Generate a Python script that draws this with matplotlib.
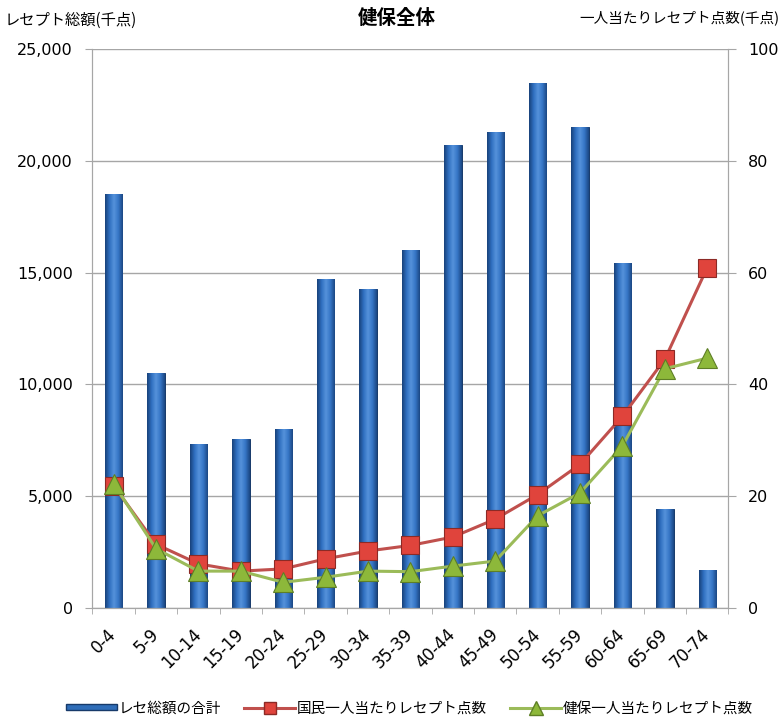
import numpy as np
import matplotlib
matplotlib.use("Agg")
import matplotlib.pyplot as plt
from matplotlib.colors import LinearSegmentedColormap
from matplotlib.patches import Rectangle
from matplotlib.lines import Line2D

plt.rcParams['font.family'] = ['Noto Sans CJK JP', 'DejaVu Sans']

# 年齢階級
ages = ['0-4', '5-9', '10-14', '15-19', '20-24', '25-29', '30-34', '35-39',
        '40-44', '45-49', '50-54', '55-59', '60-64', '65-69', '70-74']
# レセ総額の合計(千点)
total_points = [18500, 10500, 7350, 7550, 8000, 14700, 14250, 16000,
                20700, 21300, 23500, 21500, 15450, 4450, 1700]
# 国民一人当たりレセプト点数(千点)
kokumin_per_person = [21.9, 11.4, 7.9, 6.6, 7.0, 8.8, 10.2, 11.2,
                      12.7, 15.9, 20.3, 25.7, 34.3, 44.5, 60.9]
# 健保一人当たりレセプト点数(千点)
kenpo_per_person = [22.2, 10.6, 6.6, 6.6, 4.6, 5.5, 6.6, 6.5,
                    7.5, 8.4, 16.5, 20.6, 29.0, 42.8, 44.7]

left_ticks = list(range(0, 25001, 5000))
right_ticks = list(range(0, 101, 20))

fig = plt.figure(figsize=(7.81, 7.17), dpi=100)
ax = fig.add_axes([0.1184, 0.1520, 0.8143, 0.7797])
ax2 = ax.twinx()

x = np.arange(len(ages))
bar_w = 0.41

# cylinder-like shading for the bars
shade = LinearSegmentedColormap.from_list(
    'bar', ['#18427A', '#2F6FC0', '#5592DB', '#3676C6', '#1B4784'])
grad = np.linspace(0, 1, 64).reshape(1, -1)
bars = ax.bar(x, total_points, width=bar_w, color='#2F6DB8',
              edgecolor='#173A6A', linewidth=0.7, zorder=2)
for b in bars:
    x0 = b.get_x()
    h = b.get_height()
    im = ax.imshow(grad, cmap=shade, aspect='auto', zorder=2.1,
                   extent=(x0, x0 + bar_w, 0, h))
    im.set_clip_path(b)

ax.set_xlim(-0.5, len(ages) - 0.5)
ax.set_ylim(0, 25000)
ax.set_yticks(left_ticks)
ax.set_yticklabels([f'{v:,}' for v in left_ticks], family='DejaVu Sans')
ax.grid(axis='y', color='#A6A6A6', linewidth=1.0, zorder=0)
ax.set_axisbelow(True)

ax.set_xticks(x)
ax.set_xticklabels(ages, rotation=45, ha='right', va='center',
                   rotation_mode='anchor', family='DejaVu Sans')
ax.set_xticks(np.arange(-0.5, len(ages)), minor=True)
ax.tick_params(axis='x', which='major', length=0, pad=17, labelsize=12)
ax.tick_params(axis='x', which='minor', length=4, color='#A6A6A6')
ax.tick_params(axis='y', length=5, pad=9, color='#A6A6A6', labelsize=11.5)

ax2.set_ylim(0, 100)
ax2.set_yticks(right_ticks)
ax2.set_yticklabels([str(v) for v in right_ticks], family='DejaVu Sans')
ax2.tick_params(axis='y', length=6, pad=8, color='#A6A6A6', labelsize=11.5)

for a in (ax, ax2):
    a.spines['top'].set_visible(False)
    for s in ('left', 'right', 'bottom'):
        a.spines[s].set_color('#A6A6A6')

ax2.plot(x, kokumin_per_person, color='#C0504D', linewidth=2.2,
         marker='s', markersize=13, markerfacecolor='#E0443C',
         markeredgecolor='#8C2A26', markeredgewidth=0.8, zorder=3)
ax2.plot(x, kenpo_per_person, color='#9BBB59', linewidth=2.2,
         marker='^', markersize=15, markerfacecolor='#8DB83A',
         markeredgecolor='#5E7F26', markeredgewidth=0.8, zorder=4)

fig.text(0.508, 0.974, '健保全体', ha='center', va='center',
         fontsize=14, fontweight='bold')
fig.text(0.006, 0.972, 'レセプト総額(千点)', ha='left', va='center', fontsize=11)
fig.text(0.998, 0.975, '一人当たりレセプト点数(千点)', ha='right', va='center',
         fontsize=10.5)

handles = [
    Rectangle((0, 0), 1, 1, facecolor='#2F6DB8', edgecolor='#173A6A'),
    Line2D([], [], color='#C0504D', linewidth=2.2, marker='s', markersize=9,
           markerfacecolor='#E0443C', markeredgecolor='#8C2A26'),
    Line2D([], [], color='#9BBB59', linewidth=2.2, marker='^', markersize=10,
           markerfacecolor='#8DB83A', markeredgecolor='#5E7F26'),
]
labels = ['レセ総額の合計', '国民一人当たりレセプト点数', '健保一人当たりレセプト点数']
fig.legend(handles, labels, loc='center', bbox_to_anchor=(0.524, 0.012),
           ncol=3, frameon=False, fontsize=10.5, handlelength=3.5,
           handleheight=0.3, columnspacing=1.6, handletextpad=0.1)

fig.savefig('out.png', dpi=100)
